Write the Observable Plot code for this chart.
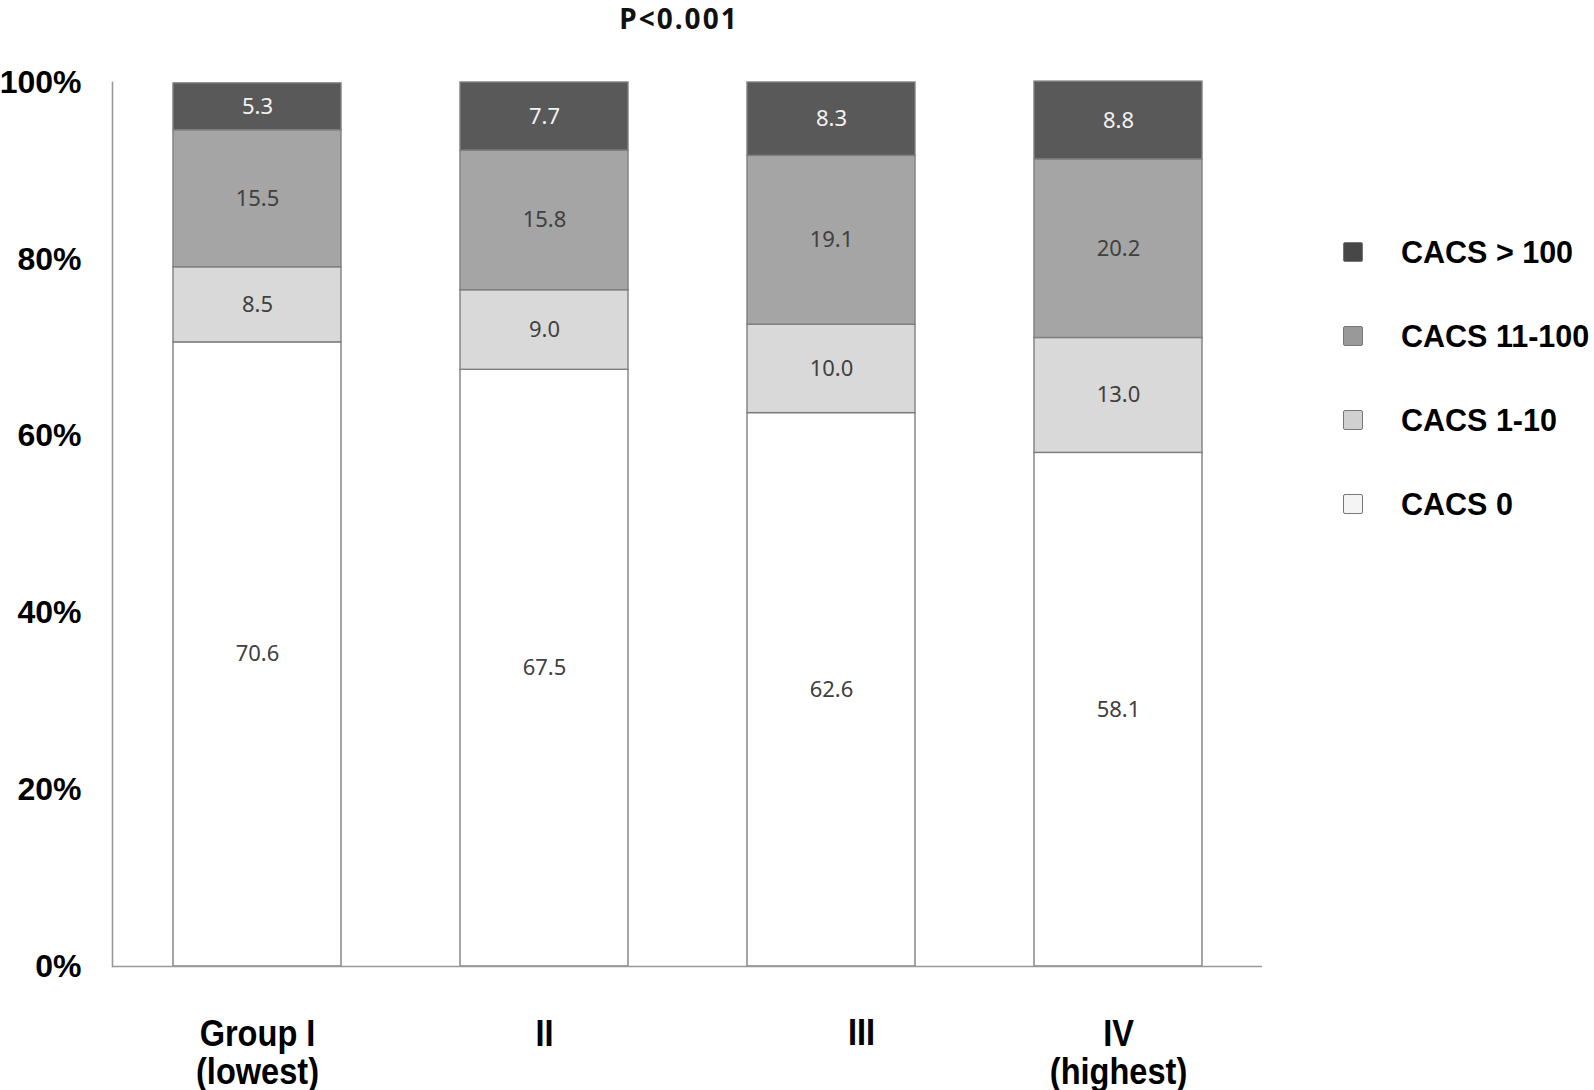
<!DOCTYPE html>
<html>
<head>
<meta charset="utf-8">
<script src="https://cdn.jsdelivr.net/npm/d3@7"></script>
<script src="https://cdn.jsdelivr.net/npm/@observablehq/plot@0.6"></script>
<style>
  html, body { margin: 0; padding: 0; background: #fff; }
  #wrap { position: relative; width: 1594px; height: 1090px; overflow: hidden; }
  #title { position: absolute; left: 0; top: -1px; width: 1358px; text-align: center; line-height: normal; letter-spacing: 2px;
           font-family: "Noto Sans", sans-serif; font-weight: 700; font-size: 28px; color: #111; }
  #legend { position: absolute; left: 1343px; top: 232px; }
  .item { position: relative; height: 84px; }
  .sw { position: absolute; left: 0; top: 10px; width: 18px; height: 18px; border: 1.5px solid #777; border-radius: 2px; }
  .lab { position: absolute; left: 58px; top: 0; white-space: nowrap;
         font-family: "Liberation Sans", Arial, sans-serif; font-weight: 700; font-size: 30.5px; color: #000; line-height: 40px; }
</style>
</head>
<body>
<div id="wrap">
  <div id="chart"></div>
  <div id="title">P&lt;0.001</div>
  <div id="legend"></div>
</div>
<script>
const groups = ["Group I\n(lowest)", "II", "III", "IV\n(highest)"];
const series = ["CACS 0", "CACS 1-10", "CACS 11-100", "CACS > 100"];
const cacs0 = [70.6, 67.5, 62.6, 58.1];
const cacs1to10 = [8.5, 9.0, 10.0, 13.0];
const cacs11to100 = [15.5, 15.8, 19.1, 20.2];
const cacsOver100 = [5.3, 7.7, 8.3, 8.8];
const yTicks = [0, 20, 40, 60, 80, 100];
const colors = ["#ffffff", "#d9d9d9", "#a5a5a5", "#595959"];
const legendColors = ["#f4f4f4", "#d0d0d0", "#999999", "#474747"];

const seriesValues = [cacs0, cacs1to10, cacs11to100, cacsOver100];
const rows = [];
groups.forEach((g, i) => series.forEach((s, j) => rows.push({group: g, series: s, value: seriesValues[j][i]})));

const stackOpts = {x: "group", y: "value", z: "series", order: series};
const xFont = "'Liberation Sans', Arial, sans-serif";

const chart = Plot.plot({
  width: 1594,
  height: 1090,
  marginLeft: 112,
  marginRight: 332,
  marginTop: 82,
  marginBottom: 124,
  x: {domain: groups, paddingInner: 0.416, paddingOuter: 0.208, label: null},
  y: {domain: [0, 100], label: null},
  color: {domain: series, range: colors},
  style: {background: "#fff"},
  marks: [
    Plot.barY(rows, Plot.stackY({...stackOpts, fill: "series", stroke: "#7f7f7f", strokeWidth: 1.4})),
    Plot.text(rows, Plot.stackY({...stackOpts, text: d => d.value.toFixed(1),
      fill: d => d.series === "CACS > 100" ? "#f2f2f2" : "#404040",
      fontFamily: "'Noto Sans', sans-serif", fontSize: 22})),
    Plot.frame({anchor: "left", stroke: "#999", strokeWidth: 1.6}),
    Plot.ruleY([0], {stroke: "#999", strokeWidth: 1.6}),
    Plot.axisY(yTicks, {tickSize: 0, tickPadding: 31, tickFormat: d => d + "%",
      fontFamily: "'Liberation Sans', Arial, sans-serif", fontWeight: 700, fontSize: 32, fill: "#000", label: null}),
    Plot.axisX(groups.filter(g => g !== "III"), {tickSize: 0, tickPadding: 52, lineAnchor: "top", lineHeight: 1.04,
      fontFamily: xFont, fontWeight: 700, fontSize: 37, fill: "#000", label: null}),
    Plot.axisX(["III"], {tickSize: 0, tickPadding: 52, dx: 30, lineAnchor: "top",
      fontFamily: xFont, fontWeight: 700, fontSize: 37, fill: "#000", label: null})
  ]
});
document.getElementById("chart").appendChild(chart);

// condense the x tick labels (reference uses a narrow bold face)
chart.querySelectorAll('g[aria-label="x-axis tick label"] text').forEach(t => {
  const tr = t.getAttribute("transform") || "";
  t.setAttribute("transform", tr + " scale(0.88,1)");
});

const legend = document.getElementById("legend");
[...series].reverse().forEach(s => {
  const item = document.createElement("div");
  item.className = "item";
  const sw = document.createElement("div");
  sw.className = "sw";
  sw.style.background = legendColors[series.indexOf(s)];
  const lab = document.createElement("div");
  lab.className = "lab";
  lab.textContent = s;
  item.appendChild(sw); item.appendChild(lab);
  legend.appendChild(item);
});
</script>
</body>
</html>
